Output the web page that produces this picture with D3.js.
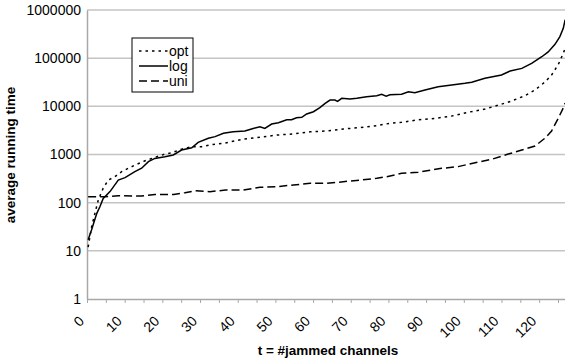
<!DOCTYPE html>
<html>
<head>
<meta charset="utf-8">
<script src="https://cdn.jsdelivr.net/npm/d3@7"></script>
<style>
  body { margin: 0; background: #fff; }
  svg { display: block; font-family: "Liberation Sans", Arial, sans-serif; }
</style>
</head>
<body>
<div id="chart"></div>
<script>
// values (t = #jammed channels, average running time)
var optT = [0.3, 1.25, 2.1, 3, 4.3, 5.65, 7.4, 9.2, 11, 12.7, 15.4, 18, 20.7, 22.5, 25.1, 27.8, 30.4, 33.5, 36.2, 41.5, 45.9, 50.3, 54.8, 59.2, 63.6, 68, 72.5, 76.9, 80.4, 83.5, 87.9, 92.4, 96.8, 101.2, 105.6, 109.2, 112.7, 116.2, 118.9, 121.6, 123.3, 125.1, 126.4, 126.9];
var optV = [12, 32, 60, 114, 200, 295, 345, 440, 520, 600, 740, 870, 1020, 1090, 1290, 1450, 1450, 1620, 1700, 2090, 2280, 2530, 2680, 2960, 3080, 3390, 3620, 3970, 4450, 4660, 5250, 5630, 6290, 7550, 8770, 10600, 12900, 16600, 21900, 32300, 44700, 74600, 126000, 160000];

var logT = [0.3, 1.2, 2.6, 3.45, 4.3, 6.1, 8.3, 10.1, 12.7, 14.5, 16.3, 18, 20.7, 22.9, 25.1, 27.8, 29.5, 32.2, 34, 36.2, 38.8, 41.9, 44.1, 45.9, 47.2, 49, 50.8, 53, 54.3, 55.6, 57, 58.3, 60.1, 61.8, 63.2, 64.5, 65.8, 66.5, 67.6, 69.8, 71.6, 74.2, 76.9, 78.2, 79.4, 80.4, 83.5, 85.3, 87, 89.7, 93.2, 96.8, 100.3, 102.1, 105.6, 110, 112.3, 115.4, 118, 120.7, 122.4, 124.2, 125.5, 126.4, 126.9];
var logV = [17, 27, 60, 83, 122, 170, 295, 330, 440, 520, 710, 830, 900, 980, 1240, 1380, 1790, 2170, 2350, 2760, 2960, 3080, 3480, 3780, 3480, 4290, 4580, 5250, 5250, 5790, 5900, 6940, 7720, 9370, 11500, 13500, 13500, 12700, 14700, 14200, 14700, 15800, 16600, 17800, 16300, 17300, 17800, 20000, 19200, 21900, 25600, 27700, 30000, 31500, 38200, 44700, 54100, 61300, 78200, 107000, 135000, 194000, 280000, 417000, 630000];

var uniT = [0.3, 4.8, 8.3, 14.5, 18, 23, 26, 28.7, 32.6, 36.8, 41.5, 45.9, 50.3, 54.8, 59.2, 63.6, 68, 72.5, 76.9, 79.5, 83.5, 87.9, 94.1, 98.5, 103, 107.4, 111.8, 115.4, 118.9, 121.6, 123.3, 125.1, 126.4, 126.9];
var uniV = [133, 133, 140, 137, 148, 148, 161, 177, 169, 183, 183, 208, 215, 233, 252, 252, 272, 295, 320, 345, 407, 427, 516, 560, 675, 795, 1020, 1240, 1500, 2200, 3080, 5700, 9300, 11700];

var yTicks = [1, 10, 100, 1000, 10000, 100000, 1000000];
var xLabels = [0, 10, 20, 30, 40, 50, 60, 70, 80, 90, 100, 110, 120];
var xTickMarks = d3.range(0, 126, 5);

var seriesNames = ["opt", "log", "uni"];
var dashes = { opt: "2.5,4", log: null, uni: "8,4" };

var width = 565, height = 361;
var margin = { top: 10, right: 0, bottom: 62, left: 87 };

var svg = d3.select("#chart")
  .append("svg")
    .attr("width", width)
    .attr("height", height);

var x = d3.scaleLinear()
  .domain([0, 127])
  .range([margin.left, margin.left + 127 * 3.768]);

var y = d3.scaleLog()
  .domain([1, 1000000])
  .range([height - margin.bottom, margin.top]);

// horizontal gridlines
svg.append("g")
  .selectAll("line")
  .data(yTicks.slice(1))
  .join("line")
    .attr("x1", margin.left)
    .attr("x2", width)
    .attr("y1", d => y(d))
    .attr("y2", d => y(d))
    .attr("stroke", "#c4c4c4")
    .attr("stroke-width", 1.5);

// y axis
var yAxis = svg.append("g")
  .attr("transform", "translate(" + margin.left + ",0)")
  .call(d3.axisLeft(y).tickValues(yTicks).tickFormat(d3.format("d")).tickSize(0).tickPadding(6));
yAxis.select(".domain").attr("stroke", "#a8a8a8").attr("stroke-width", 1.5);
yAxis.selectAll("text")
  .attr("font-size", 14)
  .attr("font-family", "Liberation Sans, Arial, sans-serif")
  .attr("fill", "#000");

// x axis
var xAxis = svg.append("g")
  .attr("transform", "translate(0," + y(1) + ")")
  .call(d3.axisBottom(x).tickValues(xTickMarks).tickFormat("").tickSize(4).tickSizeOuter(0));
xAxis.select(".domain").attr("stroke", "#a8a8a8").attr("stroke-width", 1.5);
xAxis.selectAll(".tick line").attr("stroke", "#a8a8a8");

// rotated category labels, text ends just left of the tick
svg.append("g")
  .selectAll("text")
  .data(xLabels)
  .join("text")
    .attr("transform", d => "translate(" + (x(d) - 2) + "," + (y(1) + 23) + ") rotate(-45)")
    .attr("text-anchor", "end")
    .attr("font-size", 14)
    .text(d => d);

// lines
var line = d3.line()
  .x(d => x(d[0]))
  .y(d => y(d[1]));

var seriesData = {
  opt: d3.zip(optT, optV),
  log: d3.zip(logT, logV),
  uni: d3.zip(uniT, uniV)
};

seriesNames.forEach(function(name) {
  svg.append("path")
    .datum(seriesData[name])
    .attr("fill", "none")
    .attr("stroke", "#000")
    .attr("stroke-width", 1.5)
    .attr("stroke-dasharray", dashes[name])
    .attr("d", line);
});

// legend
var legend = svg.append("g").attr("transform", "translate(132,38)");
legend.append("rect")
  .attr("width", 61)
  .attr("height", 54)
  .attr("fill", "#fff")
  .attr("stroke", "#000")
  .attr("stroke-width", 1);

seriesNames.forEach(function(name, i) {
  var ly = 13 + i * 15;
  legend.append("line")
    .attr("x1", 7).attr("x2", 36)
    .attr("y1", ly).attr("y2", ly)
    .attr("stroke", "#000")
    .attr("stroke-width", 1.5)
    .attr("stroke-dasharray", dashes[name]);
  legend.append("text")
    .attr("x", 37)
    .attr("y", ly + 5)
    .attr("font-size", 14)
    .text(name);
});

// axis titles
svg.append("text")
  .attr("x", 328)
  .attr("y", 355)
  .attr("text-anchor", "middle")
  .attr("font-size", 13.5)
  .attr("font-weight", "bold")
  .text("t = #jammed channels");

svg.append("text")
  .attr("transform", "translate(15,155) rotate(-90)")
  .attr("text-anchor", "middle")
  .attr("font-size", 13.5)
  .attr("font-weight", "bold")
  .text("average running time");
</script>
</body>
</html>
